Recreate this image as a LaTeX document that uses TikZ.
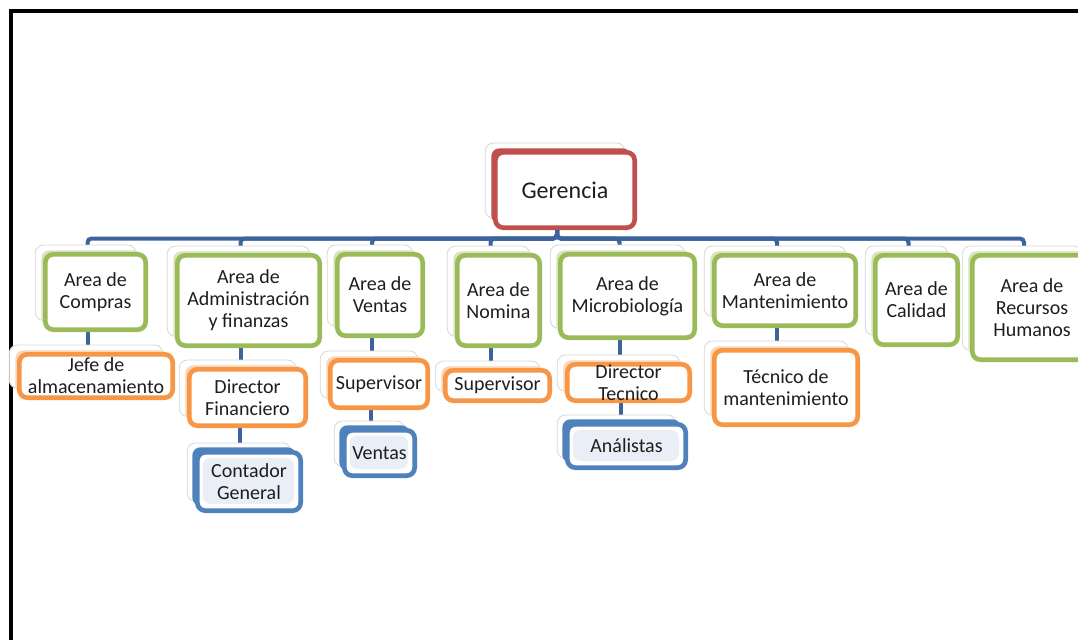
\documentclass[tikz,border=0pt]{standalone}
\usepackage{fontspec}
\setmainfont{Carlito}
\usetikzlibrary{shadows,backgrounds}
\definecolor{redC}{HTML}{C0504D}
\definecolor{grnC}{HTML}{9BBB59}
\definecolor{grnL}{HTML}{D7E4BD}
\definecolor{orgC}{HTML}{F79646}
\definecolor{orgL}{HTML}{FBD5B5}
\definecolor{bluC}{HTML}{4F81BD}
\definecolor{bluL}{HTML}{EAEFF7}
\definecolor{linkC}{HTML}{3D639C}
\definecolor{edgeC}{HTML}{D6D6D6}
\definecolor{txtC}{HTML}{1E1E1E}
\tikzset{
  x=0.75pt, y=-0.75pt,
  box/.style 2 args={minimum width=#1*0.75pt-3.5pt, minimum height=#2*0.75pt-3.5pt,
    inner sep=0pt, rounded corners=6pt, line width=3.5pt, fill=white},
  panel/.style={general shadow={draw=edgeC, fill=white, line width=0.6pt,
    shadow xshift=-7.5pt, shadow yshift=7pt}},
  topbox/.style={panel, draw=redC,
    general shadow={fill=redC, shadow xshift=-3pt, shadow yshift=3pt}},
  areabox/.style={panel, draw=grnC,
    general shadow={fill=grnL, shadow xshift=-3pt, shadow yshift=3pt}},
  rolebox/.style={panel, draw=orgC,
    general shadow={fill=orgL, shadow xshift=-3pt, shadow yshift=3pt}},
  staffbox/.style={panel, draw=bluC,
    general shadow={fill=bluC, shadow xshift=-3.75pt, shadow yshift=3.75pt},
    path picture={\fill[bluL] ([shift={(4pt,-4pt)}]path picture bounding box.north west)
      rectangle ([shift={(-5pt,5pt)}]path picture bounding box.south east);}},
  txt/.style={text=txtC, align=center, inner sep=0pt,
    font=\fontsize{15pt}{16.5pt}\selectfont},
  bigtxt/.style={txt, font=\fontsize{18pt}{20pt}\selectfont},
  conn/.style={draw=linkC, line width=3pt, rounded corners=3pt},
}
\begin{document}
\begin{tikzpicture}
\useasboundingbox (0,0) rectangle (1078,639);
\clip (0,0) rectangle (1078,639);

% outer frame
\draw[line width=3pt, black] (10.5,660) -- (10.5,11) -- (1095,11);

% top level
\node[topbox, box={144}{80}, label={[bigtxt]center:Gerencia}] (ger) at (565,190) {};

% areas
\node[areabox, box={105}{80}, label={[txt]center:Area de\\Compras}] (cmp) at (95.5,292) {};
\node[areabox, box={147}{95}, label={[txt]center:Area de\\Administración\\y finanzas}] (adm) at (248.5,300.5) {};
\node[areabox, box={90}{86}, label={[txt]center:Area de\\Ventas}] (ven) at (380,295) {};
\node[areabox, box={87}{95}, label={[txt]center:Area de\\Nomina}] (nom) at (498.5,300.5) {};
\node[areabox, box={139}{88}, label={[txt]center:Area de\\Microbiología}] (mic) at (627.5,296) {};
\node[areabox, box={146}{75}, label={[txt]center:Area de\\Mantenimiento}] (man) at (785,290.5) {};
\node[areabox, box={87}{94}, label={[txt]center:Area de\\Calidad}] (cal) at (916.5,300) {};
\node[areabox, box={124}{109}, label={[txt]center:Area de\\Recursos\\Humanos}] (rh) at (1032,307.5) {};

% second level
\node[rolebox, box={158}{48}, label={[txt]center:Jefe de\\almacenamiento}] (jefe) at (96,376) {};
\node[rolebox, box={121}{61}, label={[txt]center:Director\\Financiero}] (dfin) at (247.5,397.5) {};
\node[rolebox, box={102}{52}, label={[txt]center:Supervisor}] (supv) at (379,384) {};
\node[rolebox, box={109}{35}, label={[txt]center:Supervisor}] (supn) at (497.5,385.5) {};
\node[rolebox, box={127}{41}, label={[txt]center:Director\\Tecnico}] (dtec) at (628.5,382.5) {};
\node[rolebox, box={148}{79}, label={[txt]center:Técnico de\\mantenimiento}] (tec) at (786,387.5) {};

% third level
\node[staffbox, box={108}{63}, label={[txt]center:Contador\\General}] (cont) at (249,481.5) {};
\node[staffbox, box={75}{50}, label={[txt]center:Ventas}] (vts) at (379.5,453) {};
\node[staffbox, box={123}{48}, label={[txt]center:Análistas}] (ana) at (626.5,446) {};

% connectors
\begin{scope}[on background layer]
  \coordinate (bus) at (0,238.5);
  \foreach \c in {cmp,adm,ven,nom,mic,man,cal,rh}
    \draw[conn] ([xshift=-6pt]ger.south) -- ([xshift=-6pt]ger.south |- bus)
      -| ([xshift=-6pt]\c.north);
  \foreach \p/\c in {cmp/jefe, adm/dfin, dfin/cont, ven/supv, supv/vts,
                     nom/supn, mic/dtec, dtec/ana, man/tec}
    \draw[conn] ([xshift=-6pt]\p.south) -- ([xshift=-6pt]\p.south |- \c.north);
\end{scope}
\end{tikzpicture}
\end{document}
